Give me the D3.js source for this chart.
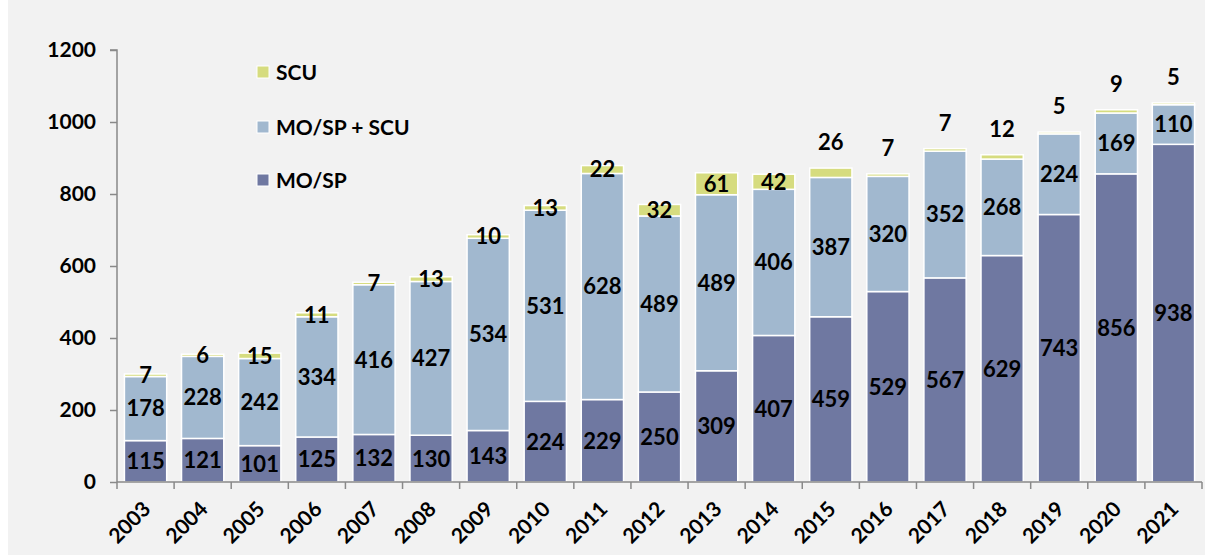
<!DOCTYPE html>
<html>
<head>
<meta charset="utf-8">
<script src="https://cdn.jsdelivr.net/npm/d3@7"></script>
<style>
  body { margin: 0; background: #ffffff; }
  svg { display: block; font-family: Lato, "Open Sans", sans-serif; font-weight: 700; }
</style>
</head>
<body>
<script>
const years = ['2003','2004','2005','2006','2007','2008','2009','2010','2011','2012','2013','2014','2015','2016','2017','2018','2019','2020','2021']
const moSp = [115,121,101,125,132,130,143,224,229,250,309,407,459,529,567,629,743,856,938]
const moSpScu = [178,228,242,334,416,427,534,531,628,489,489,406,387,320,352,268,224,169,110]
const scu = [7,6,15,11,7,13,10,13,22,32,61,42,26,7,7,12,5,9,5]
const yTicks = [0,200,400,600,800,1000,1200]
const seriesNames = ['MO/SP', 'MO/SP + SCU', 'SCU']
// years where the SCU label sits above the bar instead of in the segment
const scuAbove = ['2015','2016','2017','2018','2019','2020','2021']

const colors = ['#6f78a1', '#a1b8cf', '#d6dc7f']

const width = 1205
const height = 557
const margin = {left: 117, right: 3, top: 50, bottom: 75}

const svg = d3.select('body').append('svg').attr('width', width).attr('height', height)
svg.append('rect').attr('x', 8).attr('y', 0).attr('width', width - 8).attr('height', 555).attr('fill', '#f2f2f2')

const xScale = d3.scaleBand().domain(years).range([margin.left, width - margin.right]).paddingInner(0.26).paddingOuter(0.13)
const yScale = d3.scaleLinear().domain([0, 1200]).range([height - margin.bottom, margin.top])

const rows = years.map((y, i) => ({year: y, a: moSp[i], b: moSpScu[i], c: scu[i]}))
const stack = d3.stack().keys(['a', 'b', 'c'])(rows)

const layers = svg.selectAll('g.layer').data(stack).enter().append('g').attr('class', 'layer')
  .attr('fill', (d, i) => colors[i])
layers.selectAll('rect').data(d => d).enter().append('rect')
  .attr('x', d => xScale(d.data.year))
  .attr('width', xScale.bandwidth())
  .attr('y', d => yScale(d[1]))
  .attr('height', d => yScale(d[0]) - yScale(d[1]))
  .attr('stroke', '#ffffff').attr('stroke-width', 1.5)

// labels
stack.forEach((layer, li) => {
  svg.append('g').selectAll('text').data(layer).enter().append('text')
    .attr('x', d => xScale(d.data.year) + xScale.bandwidth() / 2)
    .attr('y', d => {
      if (li === 2 && scuAbove.includes(d.data.year)) return yScale(d[1]) - 26
      return (yScale(d[0]) + yScale(d[1])) / 2
    })
    .attr('dy', '0.36em')
    .attr('text-anchor', 'middle')
    .attr('font-size', 22)
    .attr('fill', '#000')
    .text(d => d[1] - d[0])
})

// y axis
const yAxis = d3.axisLeft(yScale).tickValues(yTicks).tickFormat(d3.format('d')).tickSize(7).tickPadding(14)
const gy = svg.append('g').attr('transform', `translate(${margin.left},0)`).call(yAxis)
gy.select('.domain').attr('stroke', '#898989').attr('stroke-width', 1.5).attr('d', `M-7,${yScale(1200)}H0V${yScale(0)}`)
gy.selectAll('.tick line').attr('stroke', '#898989').attr('stroke-width', 1.5)
gy.selectAll('.tick text').attr('font-size', 21).attr('font-family', 'Lato, sans-serif').attr('font-weight', 700).attr('fill', '#000')

// x axis
const x0 = margin.left, x1 = width - margin.right
const gx = svg.append('g')
gx.append('line').attr('x1', x0).attr('x2', x1).attr('y1', yScale(0)).attr('y2', yScale(0)).attr('stroke', '#898989').attr('stroke-width', 1.5)
gx.selectAll('line.tk').data(d3.range(years.length + 1)).enter().append('line').attr('class', 'tk')
  .attr('x1', i => x0 + i * (x1 - x0) / years.length).attr('x2', i => x0 + i * (x1 - x0) / years.length)
  .attr('y1', yScale(0)).attr('y2', yScale(0) + 7).attr('stroke', '#898989').attr('stroke-width', 1.5)
gx.selectAll('text').data(years).enter().append('text')
  .attr('transform', d => `translate(${xScale(d) + xScale.bandwidth() / 2 - 4},${yScale(0) + 18}) rotate(-45)`)
  .attr('text-anchor', 'end')
  .attr('dy', '0.7em')
  .attr('font-size', 21)
  .text(d => d)

// legend
const legendY = [180, 127, 72]
const legend = svg.append('g')
seriesNames.forEach((name, i) => {
  legend.append('rect').attr('x', 257).attr('y', legendY[i] - 6).attr('width', 12).attr('height', 12)
    .attr('fill', colors[i]).attr('stroke', '#fff').attr('stroke-width', 1)
  legend.append('text').attr('x', 276).attr('y', legendY[i]).attr('dy', '0.36em').attr('font-size', 21).text(name)
})
</script>
</body>
</html>
